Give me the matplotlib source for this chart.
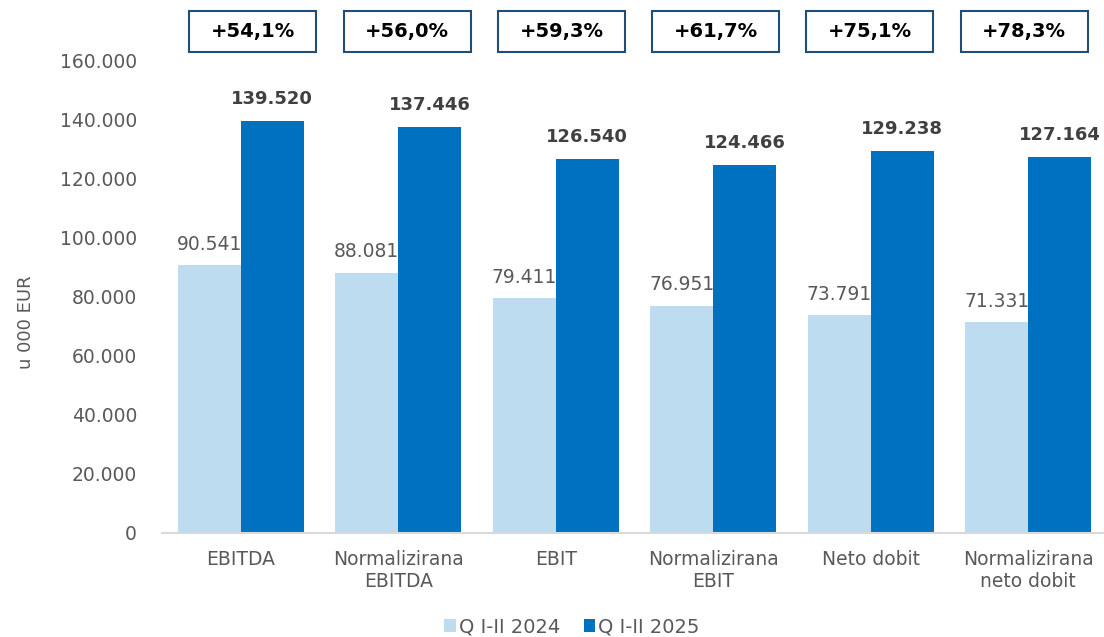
import matplotlib
matplotlib.use('Agg')
import matplotlib.pyplot as plt
from matplotlib.patches import Rectangle
from matplotlib.ticker import FuncFormatter
import numpy as np

plt.rcParams['font.family'] = ['DejaVu Sans']

categories = ['EBITDA', 'Normalizirana\nEBITDA', 'EBIT', 'Normalizirana\nEBIT',
              'Neto dobit', 'Normalizirana\nneto dobit']
q2024 = [90541, 88081, 79411, 76951, 73791, 71331]
q2025 = [139520, 137446, 126540, 124466, 129238, 127164]
growth = ['+54,1%', '+56,0%', '+59,3%', '+61,7%', '+75,1%', '+78,3%']

light = '#BDDCEF'
dark = '#0070C0'
grey = '#595959'

def fmt(v):
    return f'{v:,.0f}'.replace(',', '.')

fig = plt.figure(figsize=(11.04, 6.37), dpi=100)
ax = fig.add_axes([162/1104, 1 - 533/637, 945/1104, 473/637])

x = np.arange(len(categories))
w = 0.4
ax.bar(x - w/2, q2024, w, color=light, label='Q I-II 2024')
ax.bar(x + w/2, q2025, w, color=dark, label='Q I-II 2025')

for i in range(len(categories)):
    ax.text(x[i] - w/2, q2024[i] + 3800, fmt(q2024[i]), ha='center', va='bottom',
            fontsize=13.5, color=grey)
    ax.text(x[i] + w/2, q2025[i] + 4300, fmt(q2025[i]), ha='center', va='bottom',
            fontsize=13, color='#404040', fontweight='bold')

ax.set_xlim(-0.5, 5.5)
ax.set_ylim(0, 160000)
ax.set_yticks(np.arange(0, 160001, 20000))
ax.yaxis.set_major_formatter(FuncFormatter(lambda v, p: fmt(v)))
ax.set_xticks(x)
ax.set_xticklabels(categories)
ax.tick_params(axis='both', length=0, labelsize=13.5, colors=grey)
ax.tick_params(axis='x', pad=12)
ax.tick_params(axis='y', pad=18)
for s in ['top', 'right', 'left']:
    ax.spines[s].set_visible(False)
ax.spines['bottom'].set_color('#D9D9D9')
ax.spines['bottom'].set_linewidth(1.5)
ax.set_ylabel('u 000 EUR', fontsize=13, color=grey, labelpad=18, y=0.446)

# growth boxes
for i, g in enumerate(growth):
    cx = (253 + i * 154.2) / 1104
    bw, bh = 127/1104, 41/637
    cy = 1 - 31/637
    fig.add_artist(Rectangle((cx - bw/2, cy - bh/2), bw, bh, transform=fig.transFigure,
                             facecolor='white', edgecolor='#1F4E79', linewidth=1.5))
    fig.text(cx, cy, g, ha='center', va='center', fontsize=14, fontweight='bold',
             color='black')

leg = fig.legend(loc='center', bbox_to_anchor=(572/1104, 1 - 627/637), ncol=2, frameon=False,
                 fontsize=14, handlelength=0.6, handleheight=0.6, handletextpad=0.15,
                 columnspacing=1.2, borderpad=0)
for t in leg.get_texts():
    t.set_color(grey)

fig.savefig('out.png')
